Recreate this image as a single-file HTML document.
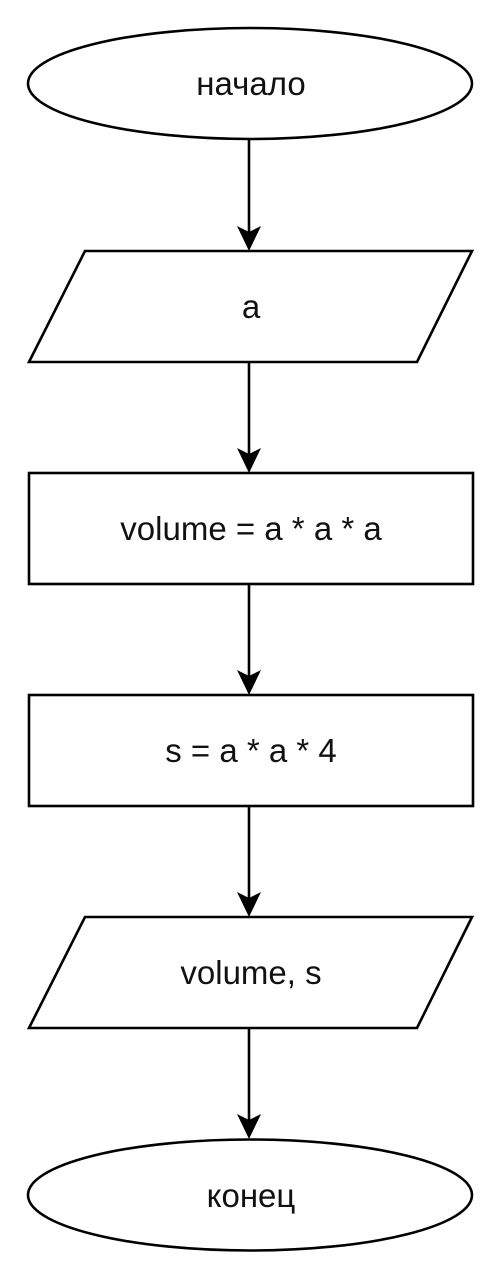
<!DOCTYPE html>
<html><head><meta charset="utf-8"><style>body{margin:0;background:#fff}svg{display:block}</style></head>
<body>
<svg width="502" height="1280" viewBox="0 0 502 1280" xmlns="http://www.w3.org/2000/svg">
<g fill="#fff" stroke="#000" stroke-width="2.6">
<ellipse cx="250" cy="83.5" rx="222" ry="55.5"/>
<polygon points="85,251 472,251 417,362 29,362"/>
<rect x="29" y="473" width="444" height="111"/>
<rect x="29" y="695" width="444" height="111"/>
<polygon points="85,917 472,917 417,1028 29,1028"/>
<ellipse cx="250" cy="1195" rx="222" ry="55.5"/>
</g>
<g stroke="#000" stroke-width="2.6">
<line x1="249" y1="139" x2="249" y2="240"/>
<line x1="249" y1="362" x2="249" y2="462"/>
<line x1="249" y1="584" x2="249" y2="684"/>
<line x1="249" y1="806" x2="249" y2="906"/>
<line x1="249" y1="1028" x2="249" y2="1128"/>
</g>
<g fill="#000">
<path d="M249,251 L237,226 L249,232 L261,226 Z"/>
<path d="M249,473 L237,448 L249,454 L261,448 Z"/>
<path d="M249,695 L237,670 L249,676 L261,670 Z"/>
<path d="M249,917 L237,892 L249,898 L261,892 Z"/>
<path d="M249,1139 L237,1114 L249,1120 L261,1114 Z"/>
</g>
<g font-family="Liberation Sans, sans-serif" font-size="33" text-anchor="middle" fill="#111">
<text x="251" y="95">начало</text>
<text x="251" y="318">a</text>
<text x="251" y="540">volume = a * a * a</text>
<text x="251" y="762">s = a * a * 4</text>
<text x="251" y="984">volume, s</text>
<text x="251" y="1207">конец</text>
</g>
</svg>
</body></html>
